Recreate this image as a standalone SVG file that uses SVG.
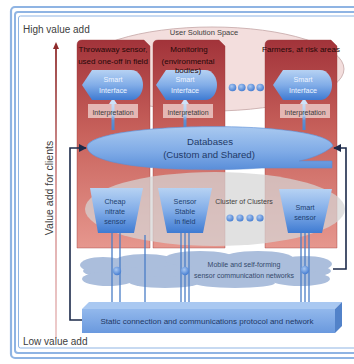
<svg xmlns="http://www.w3.org/2000/svg" width="354" height="364" viewBox="0 0 354 364">
  <style>
    .frame { fill: none; stroke: #8fb4e3; }
    .lbl { font-family: "Liberation Sans", Arial, sans-serif; fill: #404040; }
    .hdr { font-family: "Liberation Sans", Arial, sans-serif; font-size: 8px; fill: #240808; text-anchor: middle; }
    .si { font-family: "Liberation Sans", Arial, sans-serif; font-size: 7.2px; fill: #eef4ff; text-anchor: middle; }
    .interp { fill: #e9c2bf; opacity: 0.9; }
    .it { font-family: "Liberation Sans", Arial, sans-serif; font-size: 7px; fill: #3c3c3c; text-anchor: middle; }
    .sens { font-family: "Liberation Sans", Arial, sans-serif; font-size: 7.2px; fill: #203e6e; text-anchor: middle; }
    .dark { fill: none; stroke: #1c2a4a; stroke-width: 1.6; }
    .wire { stroke: #4a7dc6; stroke-width: 1.3; }
    .col { fill: url(#colGrad); stroke: #9a3a3a; stroke-width: 0.4; }
  </style>
  <defs>
    <linearGradient id="colGrad" gradientUnits="userSpaceOnUse" x1="0" y1="40" x2="0" y2="248">
      <stop offset="0" stop-color="#a2333a"/>
      <stop offset="0.45" stop-color="#c8625c"/>
      <stop offset="1" stop-color="#e6978e"/>
    </linearGradient>
    <linearGradient id="blue" x1="0" y1="0" x2="0" y2="1">
      <stop offset="0" stop-color="#b6d2f3"/>
      <stop offset="0.5" stop-color="#82ade8"/>
      <stop offset="1" stop-color="#3f7bd2"/>
    </linearGradient>
    <linearGradient id="dbGrad" x1="0" y1="0" x2="0" y2="1">
      <stop offset="0" stop-color="#a9c9f0"/>
      <stop offset="0.6" stop-color="#7eaae6"/>
      <stop offset="1" stop-color="#5a8ed9"/>
    </linearGradient>
    <linearGradient id="shaft" gradientUnits="userSpaceOnUse" x1="0" y1="98" x2="0" y2="130">
      <stop offset="0" stop-color="#d4e5f8"/>
      <stop offset="0.55" stop-color="#a9c9ef"/>
      <stop offset="0.7" stop-color="#5d90d3"/>
      <stop offset="1" stop-color="#4d83cc"/>
    </linearGradient>
    <linearGradient id="axis" gradientUnits="userSpaceOnUse" x1="0" y1="44" x2="0" y2="338">
      <stop offset="0" stop-color="#8e2a2a"/>
      <stop offset="0.5" stop-color="#d99a9a"/>
      <stop offset="1" stop-color="#ecc8c8"/>
    </linearGradient>
    <linearGradient id="netFront" x1="0" y1="0" x2="0" y2="1">
      <stop offset="0" stop-color="#92b8ec"/>
      <stop offset="1" stop-color="#6a99de"/>
    </linearGradient>
    <radialGradient id="ball" cx="0.4" cy="0.35" r="0.7">
      <stop offset="0" stop-color="#a9c8f2"/>
      <stop offset="1" stop-color="#3f78cf"/>
    </radialGradient>
    <marker id="ah" viewBox="0 0 10 10" refX="9" refY="5" markerWidth="5" markerHeight="5" orient="auto">
      <path d="M0,0 L10,5 L0,10 Z" fill="#1c2a4a"/>
    </marker>
  </defs>

  <rect width="354" height="364" fill="#ffffff"/>

  <!-- page border -->
  <rect class="frame" x="11" y="7" width="360" height="351" rx="4" stroke-width="2.2"/>
  <rect class="frame" x="15" y="12" width="360" height="341" rx="3" stroke-width="2"/>
  <rect class="frame" x="18.5" y="16" width="360" height="332" rx="2" stroke-width="1" stroke="#a4c1ea"/>

  <!-- value axis -->
  <g id="axis">
    <line x1="56" y1="47" x2="56" y2="338" stroke="url(#axis)" stroke-width="1.8"/>
    <path d="M53,49 L56,42 L59,49 Z" fill="#8e2a2a"/>
    <text class="lbl" x="23" y="33" font-size="10">High value add</text>
    <text class="lbl" x="23" y="345" font-size="10">Low value add</text>
    <text class="lbl" font-size="10.5" text-anchor="middle" transform="translate(53,188) rotate(-90)">Value add for clients</text>
  </g>

  <!-- user solution space -->
  <g id="user-space">
    <ellipse cx="212" cy="69" rx="132" ry="42" fill="#f3dedd" stroke="#c4a6a6" stroke-width="0.8"/>
    <text class="lbl" x="204" y="35" font-size="7.5" text-anchor="middle" fill="#4a4a4a">User Solution Space</text>
  </g>

  <!-- user columns -->
  <g id="column-1">
    <path class="col" d="M82,40 L144,40 L150,46 L150,248 L77,248 L77,45 Q77,40 82,40 Z"/>
  </g>
  <g id="column-2">
    <path class="col" d="M158,40 L219,40 L225,46 L225,248 L153,248 L153,45 Q153,40 158,40 Z"/>
  </g>
  <g id="column-3">
    <path class="col" d="M270,40 L331,40 L337,46 L337,248 L265,248 L265,45 Q265,40 270,40 Z"/>
  </g>

  <!-- cluster of clusters -->
  <g id="clusters">
    <ellipse cx="215" cy="209" rx="130" ry="37" fill="#d6d6d6" opacity="0.72"/>
    <text class="lbl" x="244" y="204" font-size="7" text-anchor="middle" fill="#3a3a3a">Cluster of Clusters</text>
    <circle cx="230" cy="218" r="3.6" fill="url(#ball)"/>
    <circle cx="240" cy="218" r="3.6" fill="url(#ball)"/>
    <circle cx="250" cy="218" r="3.6" fill="url(#ball)"/>
    <circle cx="260" cy="218" r="3.6" fill="url(#ball)"/>
  </g>

  <!-- interpretation boxes and arrows -->
  <g id="interp-1">
    <rect class="interp" x="88" y="104" width="50" height="14"/>
    <line x1="113" y1="130" x2="113" y2="103" stroke="url(#shaft)" stroke-width="3"/>
    <path d="M109,104 L113,98 L117,104 Z" fill="#cfe2f8"/>
    <text class="it" x="113" y="114.5">Interpretation</text>
  </g>
  <g id="interp-2">
    <rect class="interp" x="163" y="104" width="50" height="14"/>
    <line x1="185" y1="130" x2="185" y2="103" stroke="url(#shaft)" stroke-width="3"/>
    <path d="M181,104 L185,98 L189,104 Z" fill="#cfe2f8"/>
    <text class="it" x="188" y="114.5">Interpretation</text>
  </g>
  <g id="interp-3">
    <rect class="interp" x="280" y="104" width="50" height="14"/>
    <line x1="304" y1="130" x2="304" y2="103" stroke="url(#shaft)" stroke-width="3"/>
    <path d="M300,104 L304,98 L308,104 Z" fill="#cfe2f8"/>
    <text class="it" x="305" y="114.5">Interpretation</text>
  </g>

  <!-- smart interfaces -->
  <g id="smart-1">
    <path d="M92,70 L131,70 C139,70 143,78 143,85 C143,92 139,100 131,100 L92,100 L82,85 Z" fill="url(#blue)"/>
    <text class="si" x="113" y="82">Smart</text>
    <text class="si" x="113" y="93">Interface</text>
  </g>
  <g id="smart-2">
    <path d="M166,70 L205,70 C213,70 217,78 217,85 C217,92 213,100 205,100 L166,100 L156,85 Z" fill="url(#blue)"/>
    <text class="si" x="185" y="82">Smart</text>
    <text class="si" x="185" y="93">Interface</text>
  </g>
  <g id="smart-3">
    <path d="M283,70 L320,70 C328,70 332,78 332,85 C332,92 328,100 320,100 L283,100 L273,85 Z" fill="url(#blue)"/>
    <text class="si" x="303" y="82">Smart</text>
    <text class="si" x="303" y="93">Interface</text>
  </g>

  <!-- column headings -->
  <g id="headings">
    <text class="hdr" x="113" y="52">Throwaway sensor,</text>
    <text class="hdr" x="113" y="64">used one-off in field</text>
    <text class="hdr" x="189" y="52">Monitoring</text>
    <text class="hdr" x="188" y="64">(environmental</text>
    <text class="hdr" x="188" y="73">bodies)</text>
    <text class="hdr" x="301" y="52" font-size="7.6">Farmers, at risk areas</text>
  </g>

  <!-- more users -->
  <g id="more-users">
    <circle cx="232.5" cy="87.5" r="3.8" fill="url(#ball)"/>
    <circle cx="241.8" cy="87.5" r="3.8" fill="url(#ball)"/>
    <circle cx="251" cy="87.5" r="3.8" fill="url(#ball)"/>
    <circle cx="260.2" cy="87.5" r="3.8" fill="url(#ball)"/>
  </g>

  <!-- databases -->
  <g id="databases">
    <path d="M87,147 C89,121 328,119 333,146 C324,154 309,159 299,161 L332,161 L332,168 L262,168 C200,172 90,170 87,147 Z" fill="url(#dbGrad)" stroke="#5d8fd6" stroke-width="0.6"/>
    <text x="210" y="144.5" font-family="Liberation Sans, Arial, sans-serif" font-size="9.6" fill="#1f3a68" text-anchor="middle">Databases</text>
    <text x="209" y="158" font-family="Liberation Sans, Arial, sans-serif" font-size="9.6" fill="#1f3a68" text-anchor="middle">(Custom and Shared)</text>
  </g>

  <!-- sensors -->
  <g id="sensor-1">
    <path d="M90,188 L143,188 L134,233 L98,233 Z" fill="url(#blue)"/>
    <text class="sens" x="115" y="204">Cheap</text>
    <text class="sens" x="115" y="214">nitrate</text>
    <text class="sens" x="115" y="224">sensor</text>
  </g>
  <g id="sensor-2">
    <path d="M158,188 L212,188 L203,233 L167,233 Z" fill="url(#blue)"/>
    <text class="sens" x="185" y="204">Sensor</text>
    <text class="sens" x="185" y="214">Stable</text>
    <text class="sens" x="185" y="224">in field</text>
  </g>
  <g id="sensor-3">
    <path d="M279,189 L332,189 L322,233 L288,233 Z" fill="url(#blue)"/>
    <text class="sens" x="305" y="210">Smart</text>
    <text class="sens" x="305" y="220">sensor</text>
  </g>

  <!-- sensor communication cloud -->
  <g id="cloud" fill="#abbedc">
    <ellipse cx="207" cy="271" rx="124" ry="13"/>
    <ellipse cx="103" cy="265" rx="23" ry="8"/>
    <ellipse cx="145" cy="261" rx="30" ry="7"/>
    <ellipse cx="200" cy="259" rx="36" ry="8"/>
    <ellipse cx="258" cy="259" rx="36" ry="8"/>
    <ellipse cx="305" cy="264" rx="27" ry="8"/>
    <ellipse cx="108" cy="279" rx="26" ry="7"/>
    <ellipse cx="165" cy="282" rx="36" ry="6"/>
    <ellipse cx="235" cy="283" rx="40" ry="5"/>
    <ellipse cx="300" cy="279" rx="30" ry="7"/>
    <text x="244" y="267" font-family="Liberation Sans, Arial, sans-serif" font-size="7" fill="#34496b" text-anchor="middle">Mobile and self-forming</text>
    <text x="244" y="278" font-family="Liberation Sans, Arial, sans-serif" font-size="7" fill="#34496b" text-anchor="middle">sensor communication networks</text>
  </g>

  <!-- connectors -->
  <g id="connectors">
    <line class="wire" x1="112" y1="233" x2="112" y2="303"/>
    <line class="wire" x1="120" y1="233" x2="120" y2="303"/>
    <line class="wire" x1="145" y1="235" x2="145" y2="303"/>
    <line class="wire" x1="181" y1="233" x2="181" y2="303"/>
    <line class="wire" x1="185" y1="233" x2="185" y2="303"/>
    <line class="wire" x1="189" y1="233" x2="189" y2="303"/>
    <line class="wire" x1="301" y1="233" x2="301" y2="303"/>
    <line class="wire" x1="305" y1="233" x2="305" y2="303"/>
    <line class="wire" x1="309" y1="233" x2="309" y2="303"/>
    <circle cx="117" cy="271" r="4.2" fill="url(#ball)"/>
    <circle cx="185" cy="271" r="4.2" fill="url(#ball)"/>
    <circle cx="305" cy="270" r="4.2" fill="url(#ball)"/>
    <path class="dark" d="M83,320 L70,320 L70,148 L86,148" marker-end="url(#ah)"/>
    <path class="dark" d="M333,269 L346,269 L346,148 L334,148" marker-end="url(#ah)"/>
  </g>

  <!-- static network -->
  <g id="network">
    <path d="M82,309 L89,302 L342,302 L335,309 Z" fill="#a9c8f1"/>
    <path d="M335,309 L342,302 L342,326 L335,333 Z" fill="#5282c9"/>
    <rect x="82" y="309" width="253" height="24" fill="url(#netFront)"/>
    <text x="207" y="324" font-family="Liberation Sans, Arial, sans-serif" font-size="8" fill="#1f3864" text-anchor="middle">Static connection and communications protocol and network</text>
  </g>
</svg>
